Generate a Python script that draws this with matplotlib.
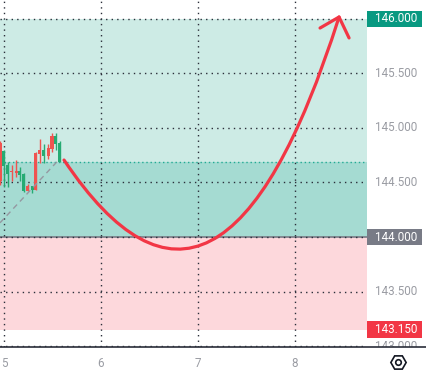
import numpy as np
import matplotlib
matplotlib.use("Agg")
import matplotlib.pyplot as plt
from matplotlib.patches import Rectangle, PathPatch
from matplotlib.path import Path
from matplotlib.lines import Line2D
from matplotlib.transforms import Bbox, TransformedBbox, blended_transform_factory

# candles (time, open, high, low, close)
candle_t = [4.959, 5.000, 5.041, 5.082, 5.124, 5.165, 5.206, 5.247,
            5.289, 5.330, 5.371, 5.412, 5.454, 5.495, 5.536, 5.577]
candle_open = [144.86, 144.65, 144.58, 144.61, 144.61, 144.57, 144.42, 144.47,
               144.43, 144.77, 144.80, 144.74, 144.82, 144.93, 144.85, 144.69]
candle_high = [144.88, 144.80, 144.69, 144.66, 144.71, 144.645, 144.59, 144.49,
               144.47, 144.78, 144.90, 144.85, 144.85, 144.95, 144.95, 144.88]
candle_low = [144.48, 144.46, 144.46, 144.51, 144.55, 144.51, 144.41, 144.42,
              144.40, 144.43, 144.68, 144.68, 144.72, 144.78, 144.80, 144.69]
candle_close = [144.51, 144.79, 144.66, 144.60, 144.59, 144.61, 144.58, 144.425,
                144.47, 144.43, 144.76, 144.80, 144.74, 144.81, 144.93, 144.86]

# dashed trend line
trend_t = [4.959, 5.546]
trend_p = [144.13, 144.69]

# forecast curve: start, control point, end (quadratic curve drawing)
curve_t = [5.619, 7.227, 8.454]
curve_p = [144.706, 142.569, 146.018]
arrow_t = [8.258, 8.454, 8.557]
arrow_p = [145.917, 146.018, 145.826]

# zones
target = 146.0
entry_top = 144.69
entry = 144.0
stop = 143.15

price_ticks = [143.0, 143.5, 144.0, 144.5, 145.0, 145.5, 146.0]
time_ticks = [5, 6, 7, 8]
time_labels = ["5", "6", "7", "8"]

label_font = ["Roboto", "DejaVu Sans"]
label_size = 8.4
green = "#26ab73"
red = "#ef5350"

fig = plt.figure(figsize=(4.27, 3.75), dpi=100)
W, H = 427, 375
ax = fig.add_axes([0, (H - 347) / H, 367 / W, 347 / H])
ax.set_xlim(4.959, 8.742)
ax.set_ylim(142.991, 146.174)
for s in ax.spines.values():
    s.set_visible(False)

# zones
ax.axhspan(entry_top, target, color="#cdebe5", lw=0, zorder=1)
ax.axhspan(entry, entry_top, color="#a5dbd2", lw=0, zorder=1)
ax.axhspan(stop, entry, color="#fdd8dc", lw=0, zorder=1)
ax.axhline(entry_top, color="#22ab94", lw=1, ls=(0, (1, 2)), zorder=2)
ax.axhline(entry, color="#787b86", lw=1.2, zorder=2)

# grid
ax.set_yticks(price_ticks)
ax.set_xticks(time_ticks)
ax.set_xticklabels(time_labels, family=label_font, fontsize=label_size, color="#9a9ca3")
ax.tick_params(axis="x", length=0, pad=7.5)
ax.tick_params(axis="y", length=0, labelleft=False)
ax.grid(True, color="#2a2e39", lw=1, ls=(0, (1, 3)))
ax.set_axisbelow(False)

# candles
o = np.array(candle_open)
c = np.array(candle_close)
colors = [green if cc >= oo else red for oo, cc in zip(o, c)]
ax.vlines(candle_t, candle_low, candle_high, colors=colors, lw=1, zorder=3)
ax.bar(candle_t, np.maximum(np.abs(c - o), 0.01), bottom=np.minimum(o, c),
       width=0.031, color=colors, lw=0, zorder=3)

ax.plot(trend_t, trend_p, color="#9598a1", lw=1, ls=(0, (4, 3)), zorder=3)

curve = Path(list(zip(curve_t, curve_p)), [Path.MOVETO, Path.CURVE3, Path.CURVE3])
ax.add_patch(PathPatch(curve, fill=False, edgecolor="#f23645", lw=2.3,
                       capstyle="round", zorder=4))
ax.plot(arrow_t, arrow_p, color="#f23645", lw=2.3, solid_joinstyle="round",
        solid_capstyle="round", zorder=4, clip_on=False)

# right price scale
tr = blended_transform_factory(ax.transAxes, ax.transData)
x0 = 375 / 367
for v in price_ticks:
    if v in (target, entry):
        continue
    t = ax.text(x0, v, f"{v:.3f}", transform=tr, ha="left", va="center",
                family=label_font, fontsize=label_size, color="#9a9ca3", clip_on=True)
    t.set_clip_box(TransformedBbox(Bbox([[367 / W, 28 / H], [1, 1]]), fig.transFigure))

for v, col in [(target, "#089981"), (entry, "#787b86"), (stop, "#f23645")]:
    ax.add_patch(Rectangle((1.0, v - 0.077), 55 / 367, 0.154, transform=tr,
                           facecolor=col, edgecolor="none", clip_on=False, zorder=5))
    ax.text(x0, v, f"{v:.3f}", transform=tr, ha="left", va="center",
            family=label_font, fontsize=label_size, color="white", zorder=6)

# bottom border
fig.add_artist(Line2D([0, 1], [(H - 347) / H] * 2, color="#2a2e39", lw=1.2))

# settings icon
fig.add_artist(Line2D([398 / W], [(H - 362) / H], marker="H", markersize=11,
                      markerfacecolor="none", markeredgecolor="#131722", markeredgewidth=1.2))
fig.add_artist(Line2D([398 / W], [(H - 362) / H], marker="o", markersize=4,
                      markerfacecolor="none", markeredgecolor="#131722", markeredgewidth=1.2))

fig.savefig("out.png", dpi=100)
